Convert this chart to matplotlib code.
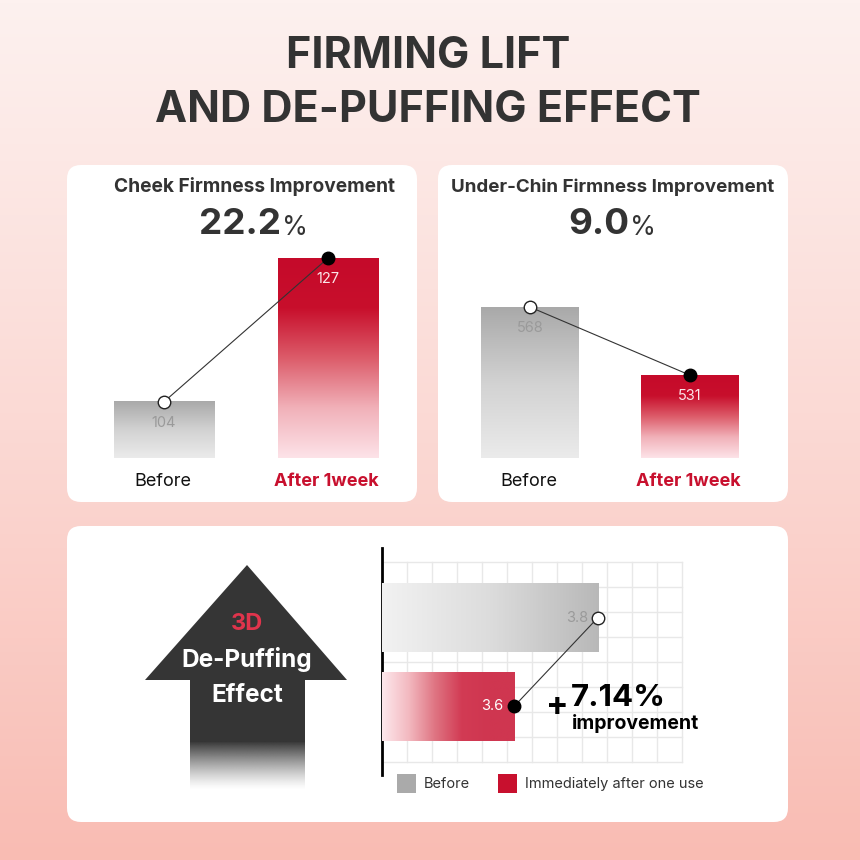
import matplotlib
matplotlib.use("Agg")
import matplotlib.pyplot as plt
import numpy as np
from matplotlib.colors import LinearSegmentedColormap, to_rgb
from matplotlib.patches import FancyBboxPatch, Polygon, Rectangle

plt.rcParams['font.family'] = ['Inter', 'DejaVu Sans']

# ---------------- data ----------------
title_lines = ["FIRMING LIFT", "AND DE-PUFFING EFFECT"]
categories = ["Before", "After 1week"]
cheek_title = "Cheek Firmness Improvement"
cheek_pct = "22.2"
cheek_values = [104, 127]
chin_title = "Under-Chin Firmness Improvement"
chin_pct = "9.0"
chin_values = [568, 531]
arrow_lines = ["3D", "De-Puffing", "Effect"]
depuff_labels = ["Before", "Immediately after one use"]
depuff_values = [3.8, 3.6]
depuff_pct = "7.14"

W = H = 860
DARK = "#333333"
RED = "#c8102e"

fig = plt.figure(figsize=(8.6, 8.6), dpi=100)


def px_axes(x0, y0, x1, y1, z=1):
    # box in pixels (origin top-left) -> figure axes
    ax = fig.add_axes([x0 / W, 1 - y1 / H, (x1 - x0) / W, (y1 - y0) / H], zorder=z)
    ax.set_facecolor("none")
    ax.axis("off")
    return ax


def cmap_of(*cols):
    return LinearSegmentedColormap.from_list("g", list(cols))


def gradient_bar(ax, x0, x1, y0, y1, cmap, vertical=True):
    g = np.linspace(0, 1, 256)
    img = g.reshape(-1, 1) if vertical else g.reshape(1, -1)
    ax.imshow(img, cmap=cmap, extent=(x0, x1, y0, y1), origin="lower",
              aspect="auto", interpolation="bilinear", zorder=2)


# ---------------- background / decorations (pixel space) ----------------
bg = px_axes(0, 0, W, H, z=0)
bg_cmap = cmap_of("#fdf1ef", "#fbd9d4", "#f9bcb3")
bg.imshow(np.linspace(0, 1, 256).reshape(-1, 1), cmap=bg_cmap,
          extent=(0, W, H, 0), origin="upper", aspect="auto")
bg.set_xlim(0, W)
bg.set_ylim(H, 0)

for ln, y in zip(title_lines, [57, 110]):
    bg.text(W / 2 - 2, y, ln, ha="center", va="center", fontsize=31,
            fontweight="bold", color=DARK)

for (x0, y0, x1, y1) in [(67, 165, 417, 502), (438, 165, 788, 502), (67, 526, 788, 822)]:
    bg.add_patch(FancyBboxPatch((x0, y0), x1 - x0, y1 - y0,
                                boxstyle="round,pad=0,rounding_size=14",
                                fc="white", ec="none", zorder=1))

# panel headers
bg.text(254, 187, cheek_title, ha="center", va="center", fontsize=13.8,
        fontweight="bold", color=DARK)
bg.text(281, 225, cheek_pct, ha="right", va="center", fontsize=26.5,
        fontweight="bold", color=DARK)
bg.text(282, 228, "%", ha="left", va="center", fontsize=19, color=DARK)
bg.text(613, 187, chin_title, ha="center", va="center", fontsize=13.5,
        fontweight="bold", color=DARK)
bg.text(629, 225, chin_pct, ha="right", va="center", fontsize=26.5,
        fontweight="bold", color=DARK)
bg.text(630, 228, "%", ha="left", va="center", fontsize=19, color=DARK)

# ---------------- vertical bar charts ----------------
gray_v = cmap_of("#ebebeb", "#d2d2d2", "#a9a9a9")
red_v = cmap_of("#fde3e8", "#f1b1b9", "#dc5c6a", "#c80f2c", "#c50a2a")


def firmness_chart(box, ylim, values):
    ax = px_axes(*box, z=2)
    w = 0.61
    for i, v in enumerate(values):
        gradient_bar(ax, i - w / 2, i + w / 2, ylim[0], v, gray_v if i == 0 else red_v)
        ax.annotate(str(v), (i, v), xytext=(0, -15), textcoords="offset points",
                    ha="center", va="center", fontsize=10.5,
                    color="#9a9a9a" if i == 0 else "#fbe6e9", zorder=4)
    ax.plot([0, 1], values, color=DARK, lw=0.8, zorder=3)
    ax.plot(0, values[0], "o", ms=9, mfc="white", mec="#222222", mew=1, zorder=5)
    ax.plot(1, values[1], "o", ms=9, mfc="black", mec="black", zorder=5)
    for i, c in enumerate(categories):
        ax.annotate(c, (i, 0), xycoords=("data", "axes fraction"), xytext=(-1, -17),
                    textcoords="offset points", ha="center", va="center", fontsize=13,
                    fontweight="normal" if i == 0 else "bold",
                    color="#111111" if i == 0 else RED)
    ax.set_xlim(-0.5, 1.5)
    ax.set_ylim(*ylim)
    return ax


firmness_chart((82, 250, 410, 458), (95, 128.3), cheek_values)
firmness_chart((450, 250, 770, 458), (486, 599), chin_values)

# ---------------- arrow ----------------
ARROW = "#353535"
bg.add_patch(Polygon([(247, 565), (347, 680), (305, 680), (305, 742), (190, 742),
                      (190, 680), (145, 680)], closed=True, fc=ARROW, ec="none", zorder=2))
fade = np.zeros((128, 1, 4))
fade[..., :3] = to_rgb(ARROW)
fade[:, 0, 3] = np.linspace(1, 0, 128) ** 1.3
bg.imshow(fade, extent=(190, 305, 790, 741), origin="upper", aspect="auto", zorder=2)
bg.set_xlim(0, W)
bg.set_ylim(H, 0)
bg.text(247, 624, arrow_lines[0], ha="center", va="center", fontsize=17,
        fontweight="bold", color="#e0344c", zorder=3)
bg.text(247, 660, arrow_lines[1], ha="center", va="center", fontsize=17.5,
        fontweight="bold", color="white", zorder=3)
bg.text(247, 695, arrow_lines[2], ha="center", va="center", fontsize=17.5,
        fontweight="bold", color="white", zorder=3)

# ---------------- de-puffing horizontal bars ----------------
for x in range(407, 683, 25):
    bg.plot([x, x], [562, 762], color="#e8e8e8", lw=1, zorder=1.5)
for y in range(562, 763, 25):
    bg.plot([383, 682], [y, y], color="#e8e8e8", lw=1, zorder=1.5)
bg.plot([382, 382], [548, 775], color="black", lw=2, zorder=3)

hax = px_axes(382, 562, 682, 762, z=2)
gray_h = cmap_of("#f2f2f2", "#dcdcdc", "#b8b8b8")
red_h = cmap_of("#fde8ec", "#f3b9c0", "#df7482", "#d23b54", "#cf3650", "#cf3650")
h = 0.775
xlim = (3.2857, 4.0)
for i, v in enumerate(depuff_values):
    gradient_bar(hax, xlim[0], v, i + h / 2, i - h / 2, gray_h if i == 0 else red_h,
                 vertical=False)
    hax.annotate(f"{v:.1f}", (v, i), xytext=(-15 if i == 0 else -16, 0),
                 textcoords="offset points", ha="center", va="center", fontsize=10.5,
                 color="#9a9a9a" if i == 0 else "white", zorder=4)
hax.plot(depuff_values, [0, 1], color=DARK, lw=0.8, zorder=3)
hax.plot(depuff_values[0], 0, "o", ms=9, mfc="white", mec="#222222", mew=1, zorder=5)
hax.plot(depuff_values[1], 1, "o", ms=9, mfc="black", mec="black", zorder=5)
hax.set_xlim(*xlim)
hax.set_ylim(1.6236, -0.6236)

bg.text(557, 707, "+", ha="center", va="center", fontsize=24, fontweight="bold",
        color="black", zorder=3)
bg.text(571, 706, depuff_pct + "%", ha="left", va="baseline", fontsize=22.5,
        fontweight="bold", color="black", zorder=3)
bg.text(572, 729, "improvement", ha="left", va="baseline", fontsize=14,
        fontweight="bold", color="black", zorder=3)

# legend
for (x0, col), lab in zip([(397, "#aaaaaa"), (498, RED)], depuff_labels):
    bg.add_patch(Rectangle((x0, 774), 19, 19, fc=col, ec="none", zorder=3))
    bg.text(x0 + 27, 784, lab, ha="left", va="center", fontsize=10.5,
            color=DARK, zorder=3)

fig.savefig("out.png", dpi=100)
